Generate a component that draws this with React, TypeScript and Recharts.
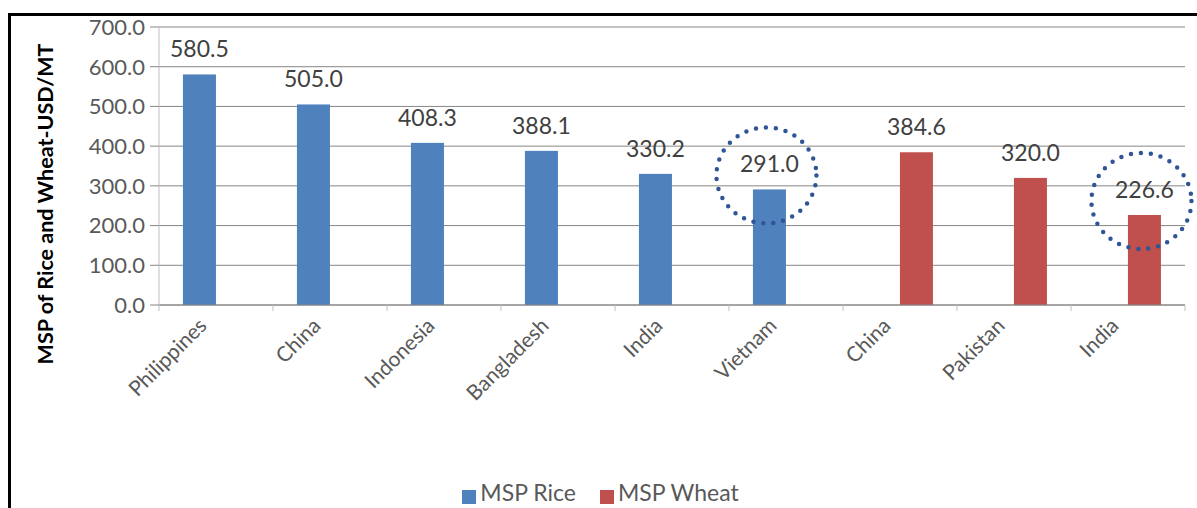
import React from 'react';
import { BarChart, Bar, XAxis, YAxis, CartesianGrid, Legend, LabelList } from 'recharts';

// country per bar slot, rice countries first then wheat countries
const categories = ['Philippines', 'China', 'Indonesia', 'Bangladesh', 'India', 'Vietnam', 'China', 'Pakistan', 'India'];
const riceValues = [580.5, 505.0, 408.3, 388.1, 330.2, 291.0, null, null, null];
const wheatValues = [null, null, null, null, null, null, 384.6, 320.0, 226.6];
const yTicks = [0, 100, 200, 300, 400, 500, 600, 700];
// slots that get a dotted ring around the value
const ringedSlots = ['slot-5', 'slot-8'];

const data = categories.map((name, i) => ({
  id: `slot-${i}`,
  name,
  rice: riceValues[i],
  wheat: wheatValues[i],
}));

const W = 1197;
const H = 508;
const PLOT_LEFT = 159;
const PLOT_RIGHT = 1185;
const BAND = (PLOT_RIGHT - PLOT_LEFT) / categories.length;

const RICE = '#4F81BD';
const WHEAT = '#C0504D';
const FONT = 'Lato, "Open Sans", sans-serif';

const fmt = (v: any) => (v == null ? '' : Number(v).toFixed(1));

const makeShape = (fill: string) => (props: any) => {
  const { x, y, width, height, payload } = props;
  if (height == null || isNaN(height)) return null;
  const ringed = payload && ringedSlots.includes(payload.id);
  return (
    <g>
      <rect x={x} y={y} width={width} height={height} fill={fill} />
      {ringed && (
        <ellipse
          cx={x + width / 2 - 3}
          cy={y - 14}
          rx={50}
          ry={48}
          fill="none"
          stroke="#2F5597"
          strokeWidth={4.5}
          strokeLinecap="round"
          strokeDasharray="0 10"
        />
      )}
    </g>
  );
};

const CountryTick = (props: any) => {
  const { x, y, payload } = props;
  const i = payload.index;
  return (
    <g>
      <line x1={x - BAND / 2} x2={x - BAND / 2} y1={y - 8} y2={y - 2} stroke="#BFBFBF" />
      {i === categories.length - 1 && (
        <line x1={x + BAND / 2} x2={x + BAND / 2} y1={y - 8} y2={y - 2} stroke="#BFBFBF" />
      )}
      <text
        x={x - 8}
        y={y + 14}
        transform={`rotate(-45 ${x - 8} ${y + 14})`}
        textAnchor="end"
        fill="#595959"
        fontSize={21}
        fontFamily={FONT}
      >
        {categories[i]}
      </text>
    </g>
  );
};

export default function App() {
  return (
    <div style={{ position: 'absolute', left: 0, top: 0, width: W, height: H, background: '#fff' }}>
      <div
        style={{
          position: 'absolute',
          left: 8,
          top: 13,
          right: 0,
          bottom: -4,
          borderTop: '3px solid #000',
          borderLeft: '3px solid #000',
        }}
      />
      <BarChart
        width={W}
        height={H}
        data={data}
        margin={{ top: 27, right: W - PLOT_RIGHT, left: 0, bottom: 0 }}
        barCategoryGap="21%"
        barGap={0}
        style={{ position: 'absolute', left: 0, top: 0 }}
      >
        <CartesianGrid vertical={false} stroke="#868686" />
        <XAxis
          dataKey="id"
          axisLine={{ stroke: '#868686' }}
          tickLine={false}
          height={173}
          interval={0}
          tick={<CountryTick />}
        />
        <YAxis
          width={PLOT_LEFT}
          domain={[0, 700]}
          ticks={yTicks}
          tickFormatter={fmt}
          axisLine={{ stroke: '#BFBFBF' }}
          tickLine={{ stroke: '#868686' }}
          tickSize={9}
          tickMargin={5}
          tick={{ fill: '#595959', fontSize: 22, fontFamily: FONT }}
          label={{
            content: () => (
              <text
                x={45}
                y={204}
                transform="rotate(-90 45 204)"
                textAnchor="middle"
                dominantBaseline="central"
                fontSize={21.5}
                fontWeight="bold"
                fontFamily={FONT}
                fill="#000"
              >
                MSP of Rice and Wheat-USD/MT
              </text>
            ),
          }}
        />
        <Legend
          verticalAlign="bottom"
          height={30}
          iconType="square"
          iconSize={14}
          wrapperStyle={{ paddingLeft: 20 }}
          formatter={(value: string) => (
            <span style={{ color: '#595959', fontSize: 23, fontFamily: FONT, marginRight: 14 }}>{value}</span>
          )}
        />
        <Bar dataKey="rice" name="MSP Rice" fill={RICE} isAnimationActive={false} shape={makeShape(RICE)}>
          <LabelList
            dataKey="rice"
            position="top"
            offset={17}
            formatter={fmt}
            fill="#404040"
            fontSize={23}
            fontFamily={FONT}
          />
        </Bar>
        <Bar dataKey="wheat" name="MSP Wheat" fill={WHEAT} isAnimationActive={false} shape={makeShape(WHEAT)}>
          <LabelList
            dataKey="wheat"
            position="top"
            offset={17}
            formatter={fmt}
            fill="#404040"
            fontSize={23}
            fontFamily={FONT}
          />
        </Bar>
      </BarChart>
    </div>
  );
}
